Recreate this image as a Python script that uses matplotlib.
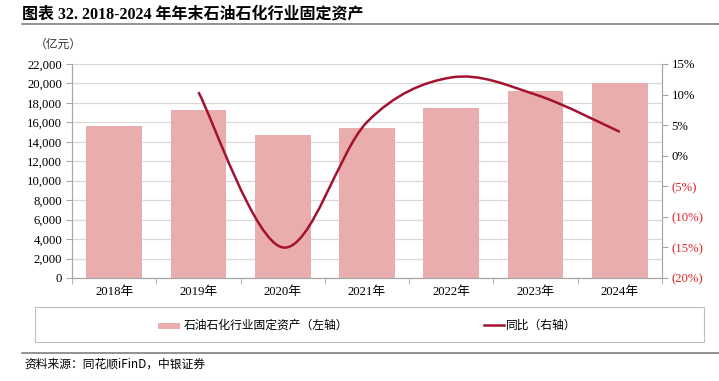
import matplotlib
matplotlib.use("Agg")
import matplotlib.pyplot as plt
import numpy as np
from matplotlib.path import Path
from matplotlib.patches import PathPatch, Rectangle
from matplotlib.lines import Line2D
import matplotlib.ticker as mticker

years = ["2018年", "2019年", "2020年", "2021年", "2022年", "2023年", "2024年"]
assets = [15620, 17280, 14700, 15430, 17470, 19230, 20050]
yoy_years_idx = [1, 2, 3, 4, 5, 6]
yoy = [10.4, -15.0, 5.5, 12.8, 10.0, 3.9]

serif = ["Liberation Serif", "Noto Sans CJK SC"]
cjk = ["Noto Sans CJK SC", "DejaVu Sans"]

bar_color = "#E8ADAC"
line_color = "#A3122F"

fig = plt.figure(figsize=(7.19, 3.81), dpi=100)
W, H = 719, 381
ax = fig.add_axes([72 / W, 1 - 278 / H, (662 - 72) / W, (278 - 64) / H])
ax2 = ax.twinx()

x = np.arange(len(years))
ax.bar(x, assets, width=0.66, color=bar_color, zorder=2)
ax.set_xlim(-0.5, len(years) - 0.5)
ax.set_ylim(0, 22000)
ax.set_yticks(np.arange(0, 22001, 2000))
ax.yaxis.set_major_formatter(mticker.FuncFormatter(lambda v, p: f"{int(v):,}"))
ax.grid(axis="y", color="#D9D9D9", linewidth=0.9, zorder=0)
ax.set_axisbelow(True)
for s in ["top"]:
    ax.spines[s].set_visible(False)
    ax2.spines[s].set_visible(False)
for a in (ax, ax2):
    for s in ["left", "right", "bottom"]:
        a.spines[s].set_color("#A6A6A6")
        a.spines[s].set_linewidth(0.8)
ax.set_xticks(x)
ax.set_xticklabels(years, fontfamily=serif, fontsize=9.2)
ax.set_xticks(np.arange(-0.5, len(years), 1), minor=True)
ax.tick_params(axis="x", which="major", length=0, pad=6)
ax.tick_params(axis="x", which="minor", length=4, color="#A6A6A6", direction="out")
ax.tick_params(axis="y", length=4, color="#A6A6A6", labelsize=9.2, pad=3)
for lab in ax.get_yticklabels():
    lab.set_fontfamily(serif)

ax2.set_ylim(-20, 15)
ax2.set_yticks(np.arange(-20, 16, 5))
def pfmt(v, p):
    v = int(round(v))
    return f"({abs(v)}%)" if v < 0 else f"{v}%"
ax2.yaxis.set_major_formatter(mticker.FuncFormatter(pfmt))
ax2.tick_params(axis="y", length=4, color="#A6A6A6", labelsize=9.2, pad=3)
for lab, v in zip(ax2.get_yticklabels(), np.arange(-20, 16, 5)):
    lab.set_fontfamily(serif)
    if v < 0:
        lab.set_color("#E0262B")

# smooth line (Catmull-Rom as cubic Bezier)
px = np.array(yoy_years_idx, dtype=float)
py = np.array(yoy, dtype=float)
verts = [(px[0], py[0])]
codes = [Path.MOVETO]
n = len(px)
for i in range(n - 1):
    p0 = np.array([px[max(i - 1, 0)], py[max(i - 1, 0)]])
    p1 = np.array([px[i], py[i]])
    p2 = np.array([px[i + 1], py[i + 1]])
    p3 = np.array([px[min(i + 2, n - 1)], py[min(i + 2, n - 1)]])
    t = 1 / 6
    c1 = p1 + (p2 - p0) * t
    c2 = p2 - (p3 - p1) * t
    verts += [tuple(c1), tuple(c2), tuple(p2)]
    codes += [Path.CURVE4] * 3
ax2.add_patch(PathPatch(Path(verts, codes), facecolor="none", edgecolor=line_color,
                        linewidth=1.8, zorder=3))

# title
fig.text(22 / W, 1 - 14 / H, "图表 32. 2018-2024 年年末石油石化行业固定资产",
         fontfamily=["Liberation Serif", "Noto Sans CJK SC"], fontweight="bold",
         fontsize=11.5, va="center", ha="left")
fig.add_artist(Line2D([22 / W, 1.0], [1 - 24 / H, 1 - 24 / H], color="#7F7F7F", linewidth=1.2))
fig.text(35 / W, 1 - 44 / H, "（亿元）", fontfamily=cjk, fontsize=8.5, va="center", ha="left",
         color="#333333")

# legend box
fig.add_artist(Rectangle((35 / W, 1 - 342 / H), (704 - 35) / W, (342 - 307) / H,
                         transform=fig.transFigure, facecolor="none", edgecolor="#BFBFBF",
                         linewidth=0.8))
fig.add_artist(Rectangle((158 / W, 1 - 328.5 / H), 22 / W, 6 / H, transform=fig.transFigure,
                         facecolor=bar_color, edgecolor="none"))
fig.text(184 / W, 1 - 325 / H, "石油石化行业固定资产（左轴）", fontfamily=cjk, fontsize=8.5,
         va="center", ha="left")
fig.add_artist(Line2D([484 / W, 504 / W], [1 - 325 / H, 1 - 325 / H], color=line_color,
                      linewidth=1.8))
fig.text(506 / W, 1 - 325 / H, "同比（右轴）", fontfamily=cjk, fontsize=8.5,
         va="center", ha="left")

fig.add_artist(Line2D([22 / W, 1.0], [1 - 353 / H, 1 - 353 / H], color="#7F7F7F", linewidth=1.2))
fig.text(24 / W, 1 - 364 / H, "资料来源：同花顺iFinD，中银证券", fontfamily=cjk, fontsize=8.5,
         style="italic", va="center", ha="left")

fig.savefig("out.png", dpi=100)
